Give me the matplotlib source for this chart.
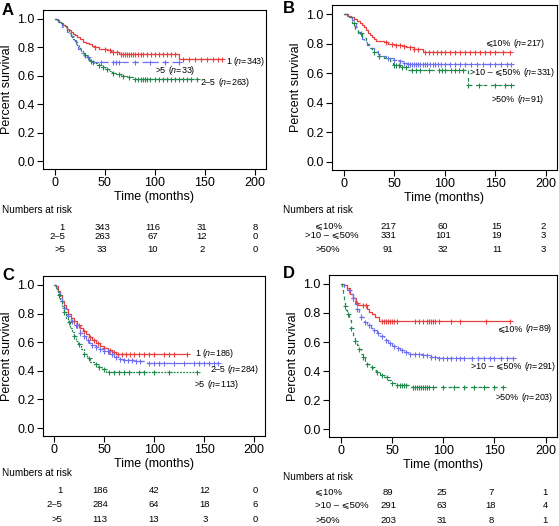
import numpy as np
import matplotlib
matplotlib.use("Agg")
import matplotlib.pyplot as plt

plt.rcParams['font.family'] = ['Liberation Sans', 'DejaVu Sans']
plt.rcParams['mathtext.fontset'] = 'custom'
plt.rcParams['mathtext.rm'] = 'Liberation Sans'
plt.rcParams['mathtext.it'] = 'Liberation Sans:italic'

RED = '#e8403f'
BLUE = '#6e6ef0'
GREEN = '#1f8a4c'

# ---------------- Panel A ----------------
a_red_t = [0, 2, 4, 6, 8, 10, 12, 14, 16, 18, 20, 22, 25, 28, 31, 34, 37, 40, 44, 48, 52, 56, 60, 64, 124]
a_red_s = [1.0, .99, .98, .97, .96, .95, .93, .92, .91, .895, .885, .87, .855, .84, .83, .82, .81, .80, .79, .785, .78, .77, .765, .755, .715]
a_red_end = 167
a_red_c = [40, 50, 55, 58, 62, 66, 68, 70, 72, 74, 76, 78, 80, 83, 86, 88, 92, 96, 100, 104, 108, 112, 116, 120, 128, 134, 140, 146, 152, 158, 163, 167]

a_grn_t = [0, 2, 4, 6, 8, 10, 12, 14, 16, 18, 20, 22, 24, 26, 28, 30, 32, 35, 38, 42, 46, 50, 54, 57, 60, 66, 72, 78]
a_grn_s = [1.0, .99, .98, .97, .955, .94, .92, .90, .875, .855, .835, .815, .795, .775, .76, .745, .725, .705, .69, .675, .66, .65, .635, .62, .61, .60, .59, .575]
a_grn_end = 142
a_grn_c = [30, 36, 44, 48, 52, 58, 64, 68, 74, 80, 83, 86, 88, 90, 92, 95, 100, 104, 108, 112, 116, 120, 124, 128, 132, 136, 142]

a_blu_t = [0, 3, 7, 12, 16, 19, 21, 23, 26, 29, 34]
a_blu_s = [1.0, .97, .94, .91, .88, .85, .82, .79, .76, .73, .697]
a_blu_end = 124
a_blu_c = [33, 38, 46, 58, 61, 64, 80, 95, 110, 124]

# ---------------- Panel B ----------------
b_red_t = [0, 4, 7, 10, 13, 16, 18, 20, 22, 24, 26, 28, 30, 32, 40, 44, 50, 58, 62, 70, 78]
b_red_s = [1.0, .99, .98, .97, .955, .94, .925, .91, .895, .875, .86, .845, .83, .82, .81, .795, .79, .785, .775, .765, .745]
b_red_end = 165
b_red_c = [42, 48, 52, 56, 60, 66, 70, 74, 80, 84, 88, 92, 96, 100, 105, 110, 115, 120, 125, 130, 135, 140, 145, 150, 158, 165]

b_blu_t = [0, 3, 6, 8, 10, 12, 14, 16, 18, 20, 23, 26, 30, 34, 38, 42, 46, 50, 55, 60, 64]
b_blu_s = [1.0, .99, .98, .96, .94, .91, .88, .85, .83, .81, .79, .77, .75, .73, .715, .705, .70, .69, .68, .67, .662]
b_blu_end = 166
b_blu_c = [44, 50, 56, 60, 64, 66, 68, 70, 72, 74, 76, 78, 80, 82, 85, 88, 90, 93, 96, 100, 105, 110, 115, 120, 126, 132, 138, 145, 150, 156, 162, 166]

b_grn_t = [0, 5, 8, 11, 14, 18, 22, 25, 28, 33, 40, 46, 49, 56, 64, 123]
b_grn_s = [1.0, .98, .94, .90, .87, .84, .80, .77, .745, .72, .70, .68, .655, .64, .625, .52]
b_grn_end = 168
b_grn_c = [10, 17, 30, 35, 50, 52, 55, 58, 62, 68, 72, 76, 84, 94, 97, 100, 106, 110, 114, 118, 123, 134, 150, 160, 166]

# ---------------- Panel C ----------------
c_red_t = [0, 2, 4, 6, 8, 10, 12, 14, 17, 20, 23, 26, 29, 32, 35, 38, 42, 46, 50, 54, 58, 62]
c_red_s = [1.0, .99, .96, .93, .89, .86, .83, .80, .77, .745, .72, .70, .675, .655, .635, .615, .595, .575, .56, .545, .53, .515]
c_red_end = 133
c_red_c = [20, 25, 30, 36, 40, 44, 50, 56, 60, 64, 68, 72, 76, 80, 85, 90, 95, 100, 110, 115, 120, 133]

c_blu_t = [0, 2, 4, 6, 8, 10, 12, 14, 17, 20, 23, 26, 29, 32, 35, 38, 42, 46, 50, 55, 60, 65, 70, 80, 93]
c_blu_s = [1.0, .98, .95, .91, .88, .84, .80, .78, .75, .72, .69, .665, .64, .615, .595, .58, .565, .55, .535, .515, .50, .485, .475, .47, .455]
c_blu_end = 164
c_blu_c = [10, 14, 18, 22, 26, 30, 34, 38, 42, 46, 50, 54, 58, 62, 66, 70, 74, 78, 82, 86, 95, 100, 105, 110, 120, 130, 140, 145, 150, 155, 160, 164]

c_grn_t = [0, 2, 4, 6, 8, 10, 12, 14, 16, 18, 20, 22, 24, 27, 30, 33, 36, 40, 44, 48, 52]
c_grn_s = [1.0, .97, .93, .89, .85, .81, .77, .74, .70, .67, .64, .61, .585, .555, .52, .49, .465, .445, .425, .41, .39]
c_grn_end = 143
c_grn_c = [5, 10, 15, 20, 25, 30, 35, 42, 45, 50, 55, 60, 65, 70, 75, 85, 90, 100, 115, 143]

# ---------------- Panel D ----------------
d_red_t = [0, 3, 6, 9, 12, 15, 17, 26, 28, 30, 33, 37]
d_red_s = [1.0, .99, .97, .93, .90, .87, .856, .83, .81, .79, .77, .745]
d_red_end = 165
d_red_c = [12, 16, 22, 25, 40, 42, 44, 46, 48, 50, 52, 55, 72, 76, 80, 84, 86, 88, 90, 92, 96, 108, 116, 142, 165]

d_blu_t = [0, 3, 6, 9, 12, 14, 16, 18, 20, 23, 26, 29, 32, 35, 38, 42, 46, 50, 54, 58, 62, 66, 70, 80, 88, 93]
d_blu_s = [1.0, .98, .96, .93, .90, .86, .83, .80, .77, .74, .72, .70, .68, .66, .64, .615, .595, .575, .56, .545, .53, .52, .515, .51, .50, .49]
d_blu_end = 168
d_blu_c = [8, 12, 16, 20, 24, 28, 32, 36, 40, 44, 48, 52, 56, 60, 64, 68, 72, 76, 80, 84, 88, 92, 96, 100, 104, 108, 112, 116, 120, 128, 134, 140, 146, 150, 156, 162, 168]

d_grn_t = [0, 1, 2, 3, 4, 5, 6, 8, 10, 12, 14, 16, 18, 20, 22, 24, 26, 28, 31, 34, 38, 42, 46, 50, 54, 68]
d_grn_s = [1.0, .97, .93, .89, .85, .82, .79, .75, .70, .65, .61, .58, .55, .52, .495, .47, .45, .43, .41, .39, .375, .36, .34, .32, .305, .29]
d_grn_end = 158
d_grn_c = [4, 7, 10, 14, 18, 22, 26, 30, 35, 40, 45, 50, 55, 58, 60, 62, 64, 70, 72, 74, 76, 78, 80, 82, 84, 86, 90, 100, 110, 120, 130, 140, 150, 158]

# ---------------- labels & risk tables ----------------
a_groups = ['1', '2–5', '>5']
a_risk = [[343, 116, 31, 8], [263, 67, 12, 0], [33, 10, 2, 0]]
b_groups = ['⩽10%', '>10 – ⩽50%', '>50%']
b_risk = [[217, 60, 15, 2], [331, 101, 19, 3], [91, 32, 11, 3]]
c_groups = ['1', '2–5', '>5']
c_risk = [[186, 42, 12, 0], [284, 64, 18, 6], [113, 13, 3, 0]]
d_groups = ['⩽10%', '>10 – ⩽50%', '>50%']
d_risk = [[89, 25, 7, 1], [291, 63, 18, 4], [203, 31, 8, 1]]

a_n = [343, 263, 33]
b_n = [217, 331, 91]
c_n = [186, 284, 113]
d_n = [89, 291, 203]

x_ticks = [0, 50, 100, 150, 200]
y_ticks = [0.0, 0.2, 0.4, 0.6, 0.8, 1.0]

W, H = 559, 526
fig = plt.figure(figsize=(W / 100, H / 100), dpi=100)


def fx(x):
    return x / W


def fy(y):
    return 1 - y / H


def draw_curve(ax, t, s, end, cens, color, ls):
    tt = list(t) + [end]
    ss = list(s) + [s[-1]]
    ax.step(tt, ss, where='post', color=color, lw=0.9, linestyle=ls)
    ta = np.array(t)
    sa = np.array(s)
    cy = [sa[np.searchsorted(ta, c, side='right') - 1] for c in cens]
    ax.plot(cens, cy, linestyle='none', marker='+', ms=3.6, mew=0.8, color=color)


def make_axes(rect_px, letter, letter_xy):
    l, r, t, b = rect_px
    ax = fig.add_axes([fx(l), fy(b), (r - l) / W, (b - t) / H])
    ax.set_xlim(-11.5, 211)
    ax.set_ylim(-0.055, 1.062)
    ax.set_xticks(x_ticks)
    ax.set_yticks(y_ticks)
    ax.set_yticklabels([f'{v:.1f}' for v in y_ticks])
    ax.tick_params(direction='out', length=4, width=0.8, labelsize=9, pad=2)
    for sp in ax.spines.values():
        sp.set_linewidth(0.8)
    ax.set_xlabel('Time (months)', fontsize=9, labelpad=1)
    ax.set_ylabel('Percent survival', fontsize=9, labelpad=3)
    fig.text(fx(letter_xy[0]), fy(letter_xy[1]), letter, fontsize=12, fontweight='bold',
             ha='left', va='top')
    return ax


def risk_table(title_xy, label_x, label_ha, row_ys, col_xs, groups, risk):
    fig.text(fx(title_xy[0]), fy(title_xy[1]), 'Numbers at risk', fontsize=7.2,
             ha='left', va='center')
    for i, g in enumerate(groups):
        lx = label_x[i] if isinstance(label_x, list) else label_x
        fig.text(fx(lx), fy(row_ys[i]), g, fontsize=6.8, ha=label_ha, va='center')
        for j, v in enumerate(risk[i]):
            fig.text(fx(col_xs[j]), fy(row_ys[i]), str(v), fontsize=6.8, ha='center', va='center')


def nlabel(ax, x, y, name, n):
    t1 = ax.text(x, y, name, fontsize=6.4, ha='left', va='center')
    ax.annotate(f'($n$={n})', xy=(1, 0.5), xycoords=t1, xytext=(1.6, 0),
                textcoords='offset points', fontsize=6.4, ha='left', va='center')


# Panel A
axA = make_axes((43, 266, 10, 169), 'A', (2, 3))
draw_curve(axA, a_red_t, a_red_s, a_red_end, a_red_c, RED, '-')
draw_curve(axA, a_blu_t, a_blu_s, a_blu_end, a_blu_c, BLUE, (0, (5, 3)))
draw_curve(axA, a_grn_t, a_grn_s, a_grn_end, a_grn_c, GREEN, (0, (1.5, 1)))
nlabel(axA, 171, 0.70, a_groups[0], a_n[0])
nlabel(axA, 101, 0.64, a_groups[2], a_n[2])
nlabel(axA, 146, 0.555, a_groups[1], a_n[1])
risk_table((2, 210), 65, 'right', [227.5, 236.5, 249], [102, 153, 202, 255], a_groups, a_risk)

# Panel B
axB = make_axes((332, 557, 5, 170), 'B', (283, 1))
draw_curve(axB, b_red_t, b_red_s, b_red_end, b_red_c, RED, '-')
draw_curve(axB, b_blu_t, b_blu_s, b_blu_end, b_blu_c, BLUE, (0, (5, 3)))
draw_curve(axB, b_grn_t, b_grn_s, b_grn_end, b_grn_c, GREEN, (0, (3, 3)))
nlabel(axB, 140, 0.80, b_groups[0], b_n[0])
nlabel(axB, 125, 0.607, b_groups[1], b_n[1])
nlabel(axB, 146, 0.42, b_groups[2], b_n[2])
risk_table((283, 210), [315, 305, 315], 'left', [226.7, 235.5, 249.3], [388, 443, 497, 543], b_groups, b_risk)

# Panel C
axC = make_axes((43, 265, 276, 436), 'C', (2, 268))
draw_curve(axC, c_red_t, c_red_s, c_red_end, c_red_c, RED, '-')
draw_curve(axC, c_blu_t, c_blu_s, c_blu_end, c_blu_c, BLUE, (0, (5, 3)))
draw_curve(axC, c_grn_t, c_grn_s, c_grn_end, c_grn_c, GREEN, (0, (1.5, 1)))
nlabel(axC, 141, 0.524, c_groups[0], c_n[0])
nlabel(axC, 156, 0.406, c_groups[1], c_n[1])
nlabel(axC, 140, 0.308, c_groups[2], c_n[2])
risk_table((2, 473), 62.5, 'right', [490.7, 504.7, 519], [100, 154, 205, 255], c_groups, c_risk)

# Panel D
axD = make_axes((329, 557, 275, 437), 'D', (283, 266))
draw_curve(axD, d_red_t, d_red_s, d_red_end, d_red_c, RED, '-')
draw_curve(axD, d_blu_t, d_blu_s, d_blu_end, d_blu_c, BLUE, (0, (5, 3)))
draw_curve(axD, d_grn_t, d_grn_s, d_grn_end, d_grn_c, GREEN, (0, (3, 3)))
nlabel(axD, 152.5, 0.69, d_groups[0], d_n[0])
nlabel(axD, 127, 0.43, d_groups[1], d_n[1])
nlabel(axD, 151, 0.217, d_groups[2], d_n[2])
risk_table((283, 477), 315, 'left', [492.3, 505.7, 520.3], [388, 442, 491, 545], d_groups, d_risk)

fig.savefig('out.png', dpi=100)
